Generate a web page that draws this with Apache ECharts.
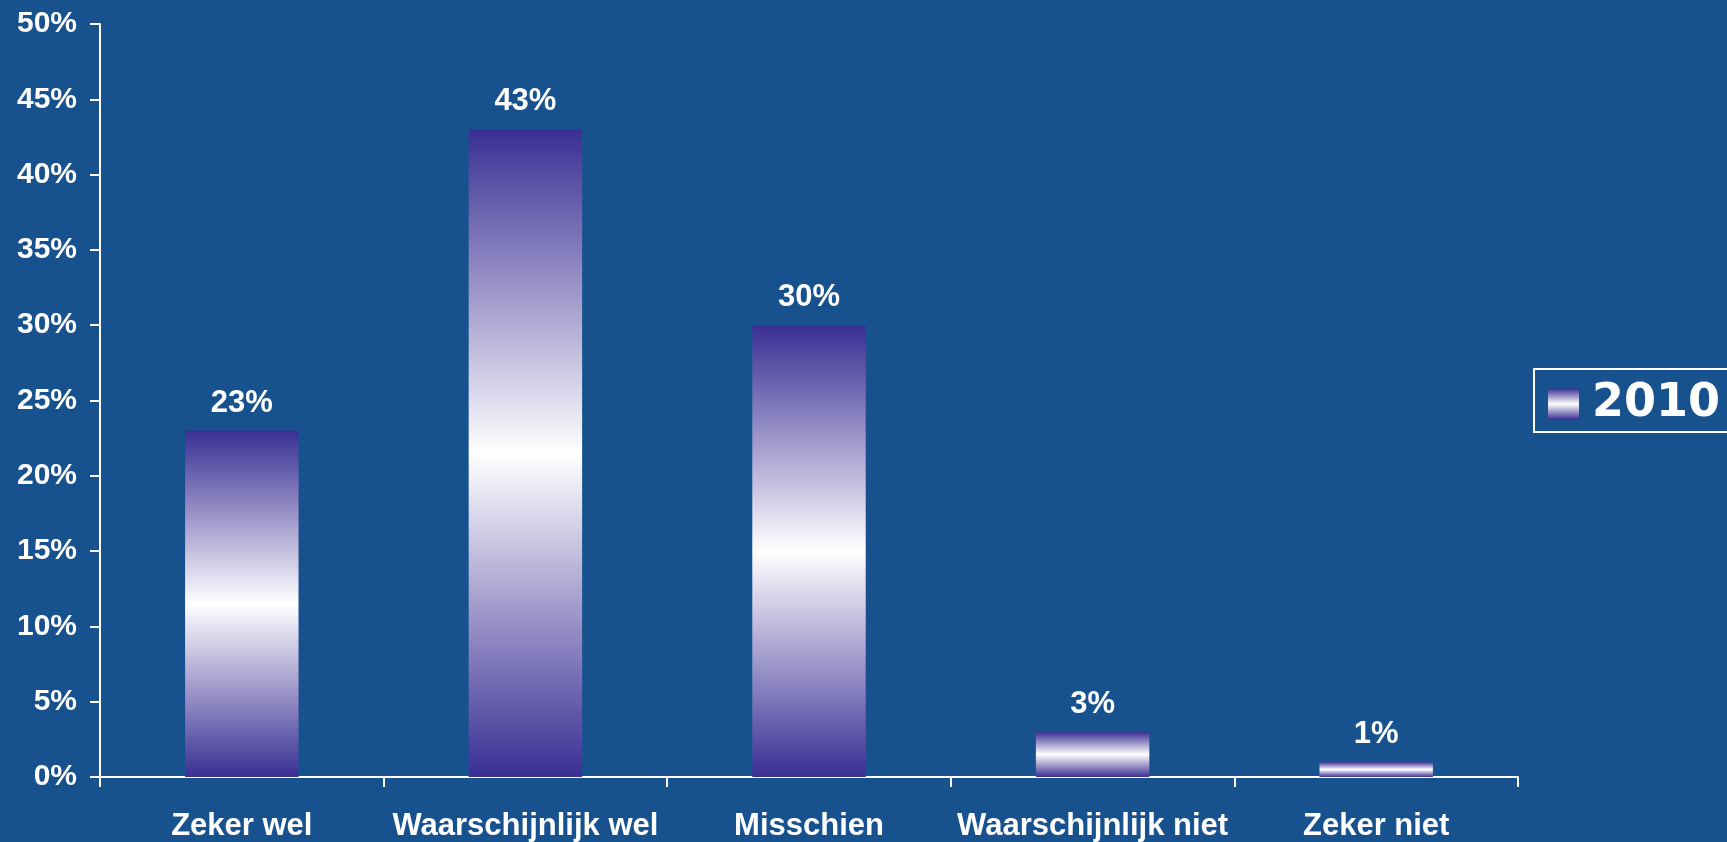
<!DOCTYPE html>
<html>
<head>
<meta charset="utf-8">
<style>
  html, body { margin: 0; padding: 0; background: #17528f; }
  #chart { width: 1727px; height: 842px; }
</style>
<script src="https://cdn.jsdelivr.net/npm/echarts@6/dist/echarts.min.js"></script>
</head>
<body>
<div id="chart"></div>
<script>
// categories and values
var categories = ['Zeker wel', 'Waarschijnlijk wel', 'Misschien', 'Waarschijnlijk niet', 'Zeker niet']
var values2010 = [23, 43, 30, 3, 1]
var seriesName = '2010'

var purple = '#3a2e94'
var barGradient = new echarts.graphic.LinearGradient(0, 0, 0, 1, [
  { offset: 0, color: purple },
  { offset: 0.5, color: '#ffffff' },
  { offset: 1, color: purple }
])

var chart = echarts.init(document.getElementById('chart'))
chart.setOption({
  backgroundColor: '#17528f',
  animation: false,
  grid: {
    left: 100,
    right: 209,
    top: 24,
    bottom: 65
  },
  legend: {
    data: [{ name: seriesName, icon: 'rect' }],
    left: 1534,
    top: 369,
    orient: 'vertical',
    itemWidth: 31,
    itemHeight: 31,
    padding: [12, 30, 5, 14],
    borderColor: '#ffffff',
    borderWidth: 2,
    textStyle: {
      color: '#ffffff',
      fontFamily: 'DejaVu Sans',
      fontWeight: 'bold',
      fontSize: 46,
      lineHeight: 46,
      padding: [0, 0, 0, 8]
    }
  },
  xAxis: {
    type: 'category',
    data: categories,
    axisLine: { lineStyle: { color: '#ffffff', width: 2 } },
    axisTick: { show: true, interval: 0, length: 10, lineStyle: { color: '#ffffff', width: 2 } },
    axisLabel: {
      interval: 0,
      color: '#ffffff',
      fontFamily: 'Liberation Sans',
      fontWeight: 'bold',
      fontSize: 31,
      margin: 34
    }
  },
  yAxis: {
    type: 'value',
    min: 0,
    max: 50,
    interval: 5,
    splitLine: { show: false },
    axisLine: { show: true, lineStyle: { color: '#ffffff', width: 2 } },
    axisTick: { show: true, length: 10, lineStyle: { color: '#ffffff', width: 2 } },
    axisLabel: {
      formatter: '{value}%',
      color: '#ffffff',
      fontFamily: 'Liberation Sans',
      fontWeight: 'bold',
      fontSize: 30,
      margin: 23
    }
  },
  series: [{
    name: seriesName,
    type: 'bar',
    data: values2010,
    barWidth: '40%',
    itemStyle: { color: barGradient },
    label: {
      show: true,
      position: 'top',
      distance: 12,
      formatter: '{c}%',
      color: '#ffffff',
      fontFamily: 'Liberation Sans',
      fontWeight: 'bold',
      fontSize: 31
    }
  }]
})
</script>
</body>
</html>
